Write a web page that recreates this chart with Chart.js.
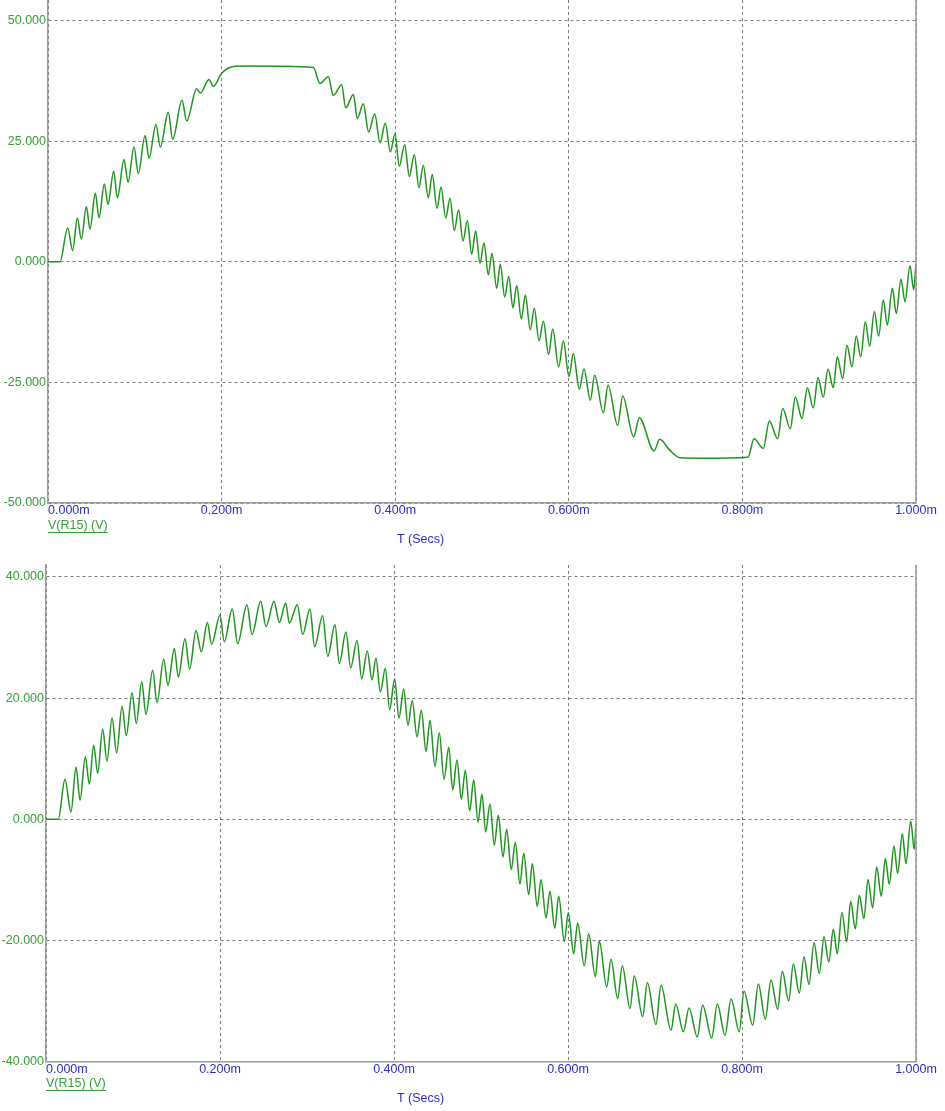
<!DOCTYPE html>
<html>
<head>
<meta charset="utf-8">
<script src="https://cdn.jsdelivr.net/npm/chart.js@4.4.1/dist/chart.umd.min.js"></script>
<style>
  html, body { margin: 0; padding: 0; background: #ffffff; }
  body { width: 945px; height: 1111px; position: relative; overflow: hidden; }
  canvas { position: absolute; left: 0; }
  #c1 { top: 0; }
  #c2 { top: 555px; }
</style>
</head>
<body>
<canvas id="c1" width="945" height="556"></canvas>
<canvas id="c2" width="945" height="556"></canvas>
<script>
// ---------- data (time in ms, voltage in V) ----------
const xTickValues = [0, 0.2, 0.4, 0.6, 0.8, 1.0];
const xTickLabels = ['0.000m', '0.200m', '0.400m', '0.600m', '0.800m', '1.000m'];
const topYTicks = [-50, -25, 0, 25, 50];
const botYTicks = [-40, -20, 0, 20, 40];
const traceName = 'V(R15) (V)';
const xTitle = 'T (Secs)';

const topTime = [0, 0.0138, 0.0227, 0.0284, 0.0338, 0.0384, 0.0442, 0.0484, 0.0545, 0.0588,
  0.0649, 0.0691, 0.0757, 0.0799, 0.0876, 0.0922, 0.0991, 0.104, 0.1118, 0.1164,
  0.1244, 0.1294, 0.1386, 0.1436, 0.1544, 0.1598, 0.1713, 0.1755, 0.1855, 0.1905,
  0.2001, 0.2135, 0.229, 0.3057, 0.3134, 0.323, 0.3287, 0.3383, 0.343, 0.3518,
  0.3564, 0.3633, 0.3694, 0.3764, 0.3825, 0.3886, 0.3944, 0.3998, 0.4047, 0.4109,
  0.4163, 0.422, 0.4274, 0.4324, 0.4381, 0.4427, 0.4482, 0.4528, 0.4582, 0.4631,
  0.4681, 0.4731, 0.4781, 0.4831, 0.4881, 0.4927, 0.4977, 0.5023, 0.5073, 0.5115,
  0.5169, 0.5211, 0.5261, 0.5307, 0.5357, 0.54, 0.5453, 0.5499, 0.5556, 0.5603,
  0.5657, 0.5707, 0.5768, 0.5815, 0.5883, 0.5937, 0.6002, 0.6052, 0.6121, 0.6175,
  0.6248, 0.6298, 0.6398, 0.6452, 0.6563, 0.6621, 0.6747, 0.6812, 0.6982, 0.7047,
  0.7166, 0.7281, 0.755, 0.8065, 0.8134, 0.8241, 0.831, 0.8407, 0.8464, 0.8552,
  0.861, 0.8687, 0.8748, 0.8817, 0.8871, 0.8932, 0.8986, 0.9047, 0.9093, 0.9155,
  0.9205, 0.9263, 0.9312, 0.9363, 0.9416, 0.9466, 0.952, 0.957, 0.9623, 0.9669,
  0.9727, 0.9773, 0.9827, 0.9873, 0.9931, 0.9973, 1.0];
const topVolt = [0, 0, 7.0, 2.35, 9.1, 4.7, 11.4, 6.8, 14.2, 9.15,
  16.15, 11.9, 18.8, 13.3, 21.2, 16.5, 23.8, 18.3, 26.2, 21.5,
  28.5, 23.8, 31.0, 25.4, 33.5, 29.2, 35.9, 35.0, 37.8, 36.4,
  39.1, 40.5, 40.6, 40.3, 37.0, 38.4, 34.5, 36.7, 31.95, 34.7,
  29.7, 32.8, 26.9, 30.7, 24.7, 28.8, 22.8, 26.5, 19.8, 24.3,
  17.7, 22.2, 15.4, 20.0, 13.3, 18.1, 11.1, 15.5, 9.1, 13.2,
  6.5, 10.8, 4.3, 8.5, 1.6, 6.4, -0.3, 3.9, -2.7, 1.8,
  -5.5, -0.5, -7.3, -3.05, -9.5, -4.9, -11.85, -6.9, -14.1, -9.6,
  -16.4, -12.3, -19.2, -13.9, -21.8, -16.4, -23.8, -19.0, -26.4, -22.2,
  -28.7, -23.5, -31.3, -25.6, -33.9, -27.8, -36.3, -32.3, -39.2, -36.8,
  -39.1, -40.6, -40.7, -40.5, -36.7, -38.7, -33.0, -36.7, -30.4, -34.6,
  -28.0, -32.5, -26.1, -30.3, -24.0, -28.1, -22.2, -26.1, -19.7, -24.2,
  -17.3, -21.8, -15.4, -19.7, -12.4, -17.5, -10.3, -15.4, -7.9, -13.1,
  -5.5, -10.7, -3.6, -8.25, -0.8, -5.8, -0.3];

const botTime = [0, 0.0141, 0.0218, 0.0287, 0.0345, 0.0391, 0.0452, 0.0498, 0.0548, 0.0594,
  0.0651, 0.0701, 0.0759, 0.0812, 0.0874, 0.0923, 0.0989, 0.1038, 0.11, 0.1149,
  0.1226, 0.1276, 0.1353, 0.1402, 0.1475, 0.1521, 0.1598, 0.1651, 0.1724, 0.1786,
  0.1854, 0.1904, 0.2, 0.2049, 0.2141, 0.2203, 0.231, 0.2368, 0.2468, 0.2529,
  0.2621, 0.2682, 0.2755, 0.2797, 0.2889, 0.295, 0.3034, 0.3088, 0.318, 0.3238,
  0.3322, 0.3371, 0.3448, 0.3502, 0.3575, 0.3629, 0.3693, 0.3747, 0.3793, 0.3843,
  0.39, 0.395, 0.4008, 0.4057, 0.4111, 0.4161, 0.421, 0.4264, 0.4314, 0.4368,
  0.4414, 0.4471, 0.4521, 0.4575, 0.4629, 0.4675, 0.4724, 0.4774, 0.482, 0.487,
  0.4916, 0.4966, 0.5011, 0.5054, 0.5103, 0.5153, 0.5199, 0.5253, 0.5295, 0.5348,
  0.5394, 0.5448, 0.5491, 0.5548, 0.559, 0.5647, 0.569, 0.5747, 0.5793, 0.5847,
  0.5893, 0.5958, 0.6003, 0.6065, 0.6111, 0.6187, 0.6238, 0.6314, 0.636, 0.6445,
  0.6494, 0.6571, 0.6624, 0.6713, 0.6762, 0.6858, 0.6912, 0.7011, 0.7069, 0.7184,
  0.7238, 0.7326, 0.7391, 0.7486, 0.7548, 0.7652, 0.7716, 0.7805, 0.7874, 0.7969,
  0.8023, 0.8123, 0.8188, 0.8268, 0.8333, 0.841, 0.8463, 0.8537, 0.859, 0.8659,
  0.8713, 0.877, 0.8828, 0.8889, 0.8943, 0.8997, 0.905, 0.9095, 0.9149, 0.9203,
  0.9249, 0.9302, 0.9348, 0.9402, 0.9448, 0.9502, 0.9548, 0.9601, 0.9647, 0.9693,
  0.9747, 0.9789, 0.9843, 0.9885, 0.9939, 0.998, 1.0];
const botVolt = [0, 0, 6.6, 1.2, 8.6, 3.15, 10.3, 5.8, 12.2, 7.6,
  14.9, 9.6, 16.7, 10.95, 18.65, 13.8, 20.9, 15.8, 22.7, 17.3,
  24.6, 19.25, 26.4, 22.1, 28.2, 23.5, 29.8, 24.8, 31.15, 27.65,
  32.5, 28.9, 33.7, 29.3, 34.7, 29.0, 35.4, 30.5, 36.0, 31.8,
  36.0, 32.5, 35.7, 32.4, 35.4, 30.5, 34.7, 28.5, 33.6, 26.9,
  32.1, 25.7, 30.9, 25.0, 29.5, 23.2, 27.8, 23.0, 26.6, 21.0,
  24.9, 18.1, 23.2, 16.7, 21.5, 15.5, 19.6, 13.6, 18.0, 11.2,
  16.3, 8.7, 14.3, 6.6, 11.9, 4.8, 9.8, 3.3, 8.1, 1.4,
  6.5, -0.45, 4.15, -2.1, 2.5, -4.3, 0.66, -6.25, -1.66, -8.3,
  -3.8, -10.7, -5.6, -12.45, -7.35, -14.4, -9.95, -16.3, -11.9, -18.0,
  -12.7, -20.2, -15.4, -22.2, -17.15, -24.2, -18.9, -26.0, -20.1, -27.7,
  -23.1, -29.6, -24.2, -31.25, -25.9, -32.6, -27.0, -33.9, -27.4, -34.85,
  -30.5, -35.1, -31.15, -35.95, -30.7, -36.1, -30.5, -35.7, -29.7, -35.1,
  -28.4, -34.0, -27.2, -33.0, -26.55, -31.4, -25.1, -30.0, -23.9, -28.7,
  -22.7, -27.3, -20.4, -25.45, -19.4, -23.6, -18.15, -22.2, -15.4, -20.2,
  -13.55, -18.1, -12.6, -16.4, -9.96, -14.65, -7.9, -12.7, -6.5, -10.7,
  -4.4, -8.96, -2.4, -7.35, -0.28, -5.0, -0.8];

// ---------- styles ----------
const GREEN_LINE = '#1c961c';
const GREEN_TEXT = '#35a035';
const BLUE_TEXT = '#2b2bcc';
const GRID = '#7c7c7c';
const AXIS = '#9a9a9a';
const FONT_FAMILY = "Arial, 'Liberation Sans', sans-serif";
const FONT_SIZE = 12.5;

const decorPlugin = {
  id: 'decor',
  afterDraw(chart, args, o) {
    const { ctx, chartArea: a, scales: { x } } = chart;
    ctx.save();
    // right border
    ctx.strokeStyle = AXIS;
    ctx.lineWidth = 1.5;
    ctx.beginPath();
    ctx.moveTo(a.right, a.top);
    ctx.lineTo(a.right, a.bottom);
    ctx.stroke();
    // x tick labels
    ctx.font = FONT_SIZE + 'px ' + FONT_FAMILY;
    ctx.fillStyle = BLUE_TEXT;
    ctx.textBaseline = 'middle';
    xTickValues.forEach((v, i) => {
      ctx.textAlign = i === 0 ? 'left' : 'center';
      ctx.fillText(xTickLabels[i], x.getPixelForValue(v), a.bottom + 8);
    });
    // trace legend (underlined)
    ctx.textAlign = 'left';
    ctx.fillStyle = GREEN_TEXT;
    const lx = x.getPixelForValue(0);
    const ly = a.bottom + o.legendDy;
    ctx.fillText(traceName, lx, ly);
    const w = ctx.measureText(traceName).width;
    ctx.strokeStyle = GREEN_TEXT;
    ctx.lineWidth = 1;
    ctx.beginPath();
    ctx.moveTo(lx, Math.round(ly + 6) + 0.5);
    ctx.lineTo(lx + w, Math.round(ly + 6) + 0.5);
    ctx.stroke();
    // x axis title
    ctx.fillStyle = BLUE_TEXT;
    ctx.fillText(xTitle, 397, a.bottom + o.titleDy);
    ctx.restore();
  }
};

function makeChart(id, times, volts, yTicks, yMin, yMax, yWidth, xHeight, padTop, legendDy, titleDy) {
  const pts = times.map((t, i) => ({ x: t, y: volts[i] }));
  return new Chart(document.getElementById(id), {
    type: 'line',
    data: {
      datasets: [{
        data: pts,
        borderColor: GREEN_LINE,
        borderWidth: 1.5,
        pointRadius: 0,
        fill: false,
        cubicInterpolationMode: 'monotone'
      }]
    },
    options: {
      responsive: false,
      animation: false,
      devicePixelRatio: 1,
      layout: { padding: { left: 0, right: 29, top: padTop, bottom: 0 } },
      plugins: {
        legend: { display: false },
        tooltip: { enabled: false },
        decor: { legendDy: legendDy, titleDy: titleDy }
      },
      scales: {
        x: {
          type: 'linear',
          min: 0,
          max: 1,
          afterBuildTicks: s => { s.ticks = xTickValues.map(v => ({ value: v })); },
          afterFit: s => { s.height = xHeight; s.paddingLeft = 0; s.paddingRight = 0; },
          ticks: { display: false },
          grid: { color: GRID, lineWidth: 1, drawTicks: false },
          border: { display: true, color: AXIS, width: 1.5, dash: [3, 3] }
        },
        y: {
          type: 'linear',
          min: yMin,
          max: yMax,
          afterBuildTicks: s => { s.ticks = yTicks.map(v => ({ value: v })); },
          afterFit: s => { s.width = yWidth; s.paddingTop = 0; s.paddingBottom = 0; },
          ticks: {
            color: GREEN_TEXT,
            padding: 2,
            font: { family: FONT_FAMILY, size: FONT_SIZE },
            autoSkip: false,
            callback: v => Number(v).toFixed(3)
          },
          grid: { color: GRID, lineWidth: 1, drawTicks: false },
          border: { display: true, color: AXIS, width: 1.5, dash: [3, 3] }
        }
      }
    },
    plugins: [decorPlugin]
  });
}

makeChart('c1', topTime, topVolt, topYTicks, -50, 54.29, 48, 53, 0, 23, 37);
makeChart('c2', botTime, botVolt, botYTicks, -40, 41.98, 46, 49.5, 10, 22.5, 37.5);
</script>
</body>
</html>
